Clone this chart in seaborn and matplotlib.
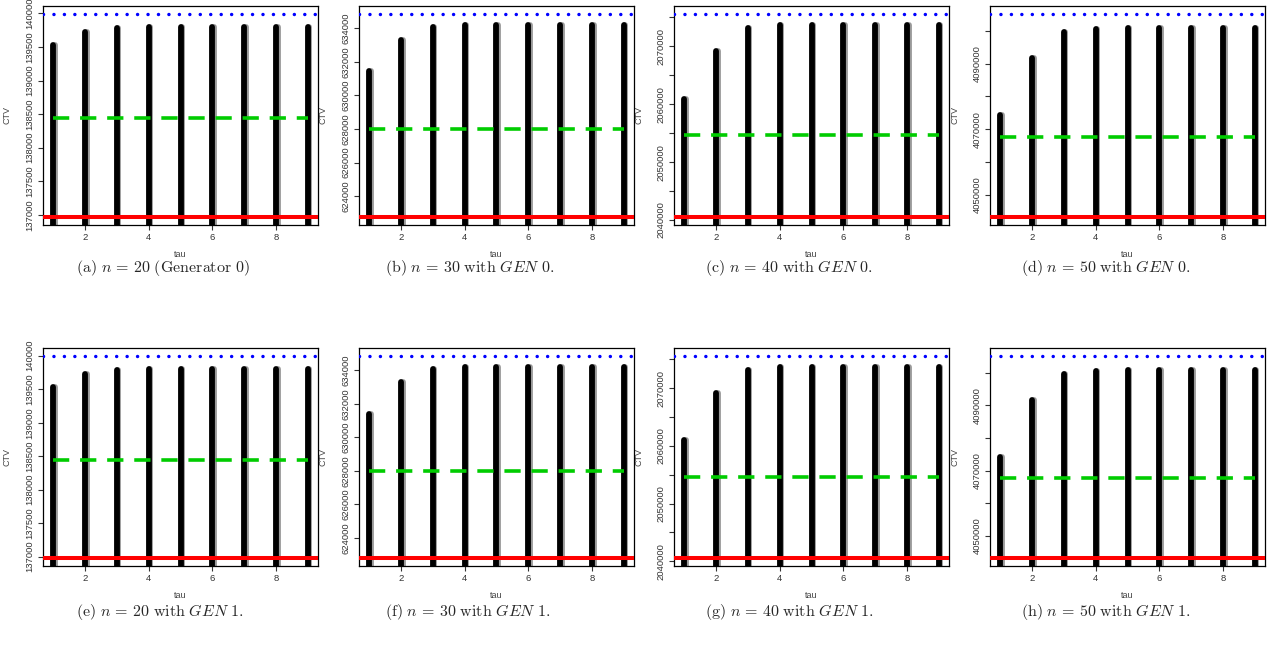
import matplotlib
matplotlib.use("Agg")
import matplotlib.pyplot as plt
import seaborn as sns

# tau values on the x axis
tau = [1, 2, 3, 4, 5, 6, 7, 8, 9]

# CTV per tau (black spikes)
ctv_a = [139535, 139725, 139790, 139803, 139805, 139805, 139805, 139805, 139805]
ctv_b = [631440, 633320, 634080, 634190, 634200, 634200, 634200, 634200, 634200]
ctv_c = [2060950, 2069120, 2073160, 2073750, 2073760, 2073760, 2073760, 2073760, 2073760]
ctv_d = [4074400, 4091630, 4099600, 4100650, 4100850, 4100850, 4100850, 4100850, 4100850]
ctv_e = [139530, 139725, 139790, 139805, 139805, 139805, 139805, 139805, 139805]
ctv_f = [631420, 633316, 634080, 634200, 634200, 634200, 634200, 634200, 634200]
ctv_g = [2061030, 2069126, 2073147, 2073670, 2073700, 2073700, 2073700, 2073700, 2073700]
ctv_h = [4074300, 4091540, 4099600, 4100600, 4100920, 4100920, 4100920, 4100920, 4100920]

# reference levels: upper bound (blue), mean (green), lower bound (red)
upper = [139990, 634840, 2075580, 4105140, 139995, 634860, 2075580, 4105140]
middle = [138442, 628000, 2054630, 4067630, 138450, 628000, 2054685, 4067630]
lower = [136970, 622770, 2040530, 4043230, 136980, 622800, 2040577, 4043230]

# y ticks (labels that R dropped for overlap are empty)
ticks_20 = [137000, 137500, 138000, 138500, 139000, 139500, 140000]
labels_20 = ["137000", "137500", "138000", "138500", "139000", "139500", "140000"]
ticks_30 = [624000, 626000, 628000, 630000, 632000, 634000]
labels_30 = ["624000", "626000", "628000", "630000", "632000", "634000"]
ticks_40 = [2040000, 2045000, 2050000, 2055000, 2060000, 2065000, 2070000, 2075000]
labels_40 = ["2040000", "", "2050000", "", "2060000", "", "2070000", ""]
ticks_50 = [4050000, 4060000, 4070000, 4080000, 4090000, 4100000]
labels_50 = ["4050000", "", "4070000", "", "4090000", ""]

captions = [
    r"$\mathrm{(a)}\ n\,=\,20\ \mathrm{(Generator\ 0)}$",
    r"$\mathrm{(b)}\ n\,=\,30\ \mathrm{with}\ \mathit{GEN\ 0}\mathrm{.}$",
    r"$\mathrm{(c)}\ n\,=\,40\ \mathrm{with}\ \mathit{GEN\ 0}\mathrm{.}$",
    r"$\mathrm{(d)}\ n\,=\,50\ \mathrm{with}\ \mathit{GEN\ 0}\mathrm{.}$",
    r"$\mathrm{(e)}\ n\,=\,20\ \mathrm{with}\ \mathit{GEN\ 1}\mathrm{.}$",
    r"$\mathrm{(f)}\ n\,=\,30\ \mathrm{with}\ \mathit{GEN\ 1}\mathrm{.}$",
    r"$\mathrm{(g)}\ n\,=\,40\ \mathrm{with}\ \mathit{GEN\ 1}\mathrm{.}$",
    r"$\mathrm{(h)}\ n\,=\,50\ \mathrm{with}\ \mathit{GEN\ 1}\mathrm{.}$",
]

sns.set_style("white")
plt.rcParams['font.family'] = ['Liberation Sans', 'DejaVu Sans']
plt.rcParams['mathtext.fontset'] = 'cm'

W, H = 1279, 655
fig = plt.figure(figsize=(W / 100, H / 100), dpi=100)

series = [ctv_a, ctv_b, ctv_c, ctv_d, ctv_e, ctv_f, ctv_g, ctv_h]
ticks = [ticks_20, ticks_30, ticks_40, ticks_50] * 2
labels = [labels_20, labels_30, labels_40, labels_50] * 2
lefts = [43, 359, 674, 990]
cap_x = [76, 385, 705, 1021]

for i, vals in enumerate(series):
    row, col = divmod(i, 4)
    top = 6 if row == 0 else 348
    bot = 225 if row == 0 else 566
    ax = fig.add_axes([lefts[col] / W, 1 - bot / H, 275 / W, (bot - top) / H])

    lo, hi = lower[i], upper[i]
    pad = 0.04 * (hi - lo)
    ylo, yhi = lo - pad, hi + pad

    # spikes (R type="h"), gray shadow slightly to the right
    ax.vlines([t + 0.05 for t in tau], ylo - pad, vals, color="#9a9a9a", lw=4.2,
              capstyle="round", zorder=2)
    ax.vlines(tau, ylo - pad, vals, color="black", lw=4.2, capstyle="round", zorder=3)

    ax.axhline(lower[i], color="#ff0000", lw=2.9, zorder=4)
    ax.hlines(middle[i], 1, 9, color="#00cc00", lw=2.6, linestyles=(0, (4.5, 3)), zorder=4)
    ax.axhline(upper[i], color="#0000ff", lw=2.5, linestyle=(0, (0.01, 3.0)),
               dash_capstyle="round", zorder=5)

    ax.set_xlim(0.68, 9.32)
    ax.set_ylim(ylo, yhi)
    ax.set_xticks([2, 4, 6, 8])
    ax.set_xticklabels(["2", "4", "6", "8"])
    ax.set_yticks(ticks[i])
    ax.set_yticklabels(labels[i])
    ax.tick_params(axis="both", direction="out", length=3.5, width=0.8, pad=2.5,
                   labelsize=6.8, colors="#333333", left=True, bottom=True)
    for lab in ax.get_yticklabels():
        lab.set_rotation(90)
        lab.set_va("center")
    for sp in ax.spines.values():
        sp.set_color("black")
        sp.set_linewidth(0.9)

    ax.set_xlabel("tau", fontsize=6.5, color="#444444")
    ax.set_ylabel("CTV", fontsize=6.5, color="#444444")
    ax.xaxis.set_label_coords(0.5, -25 / (bot - top))
    ax.yaxis.set_label_coords(-31 / 275, 0.5)

    cy = 268 if row == 0 else 612
    fig.text(cap_x[col] / W, 1 - cy / H, captions[i], fontsize=11.5, ha="left", va="center")

fig.savefig("out.png", dpi=100)
